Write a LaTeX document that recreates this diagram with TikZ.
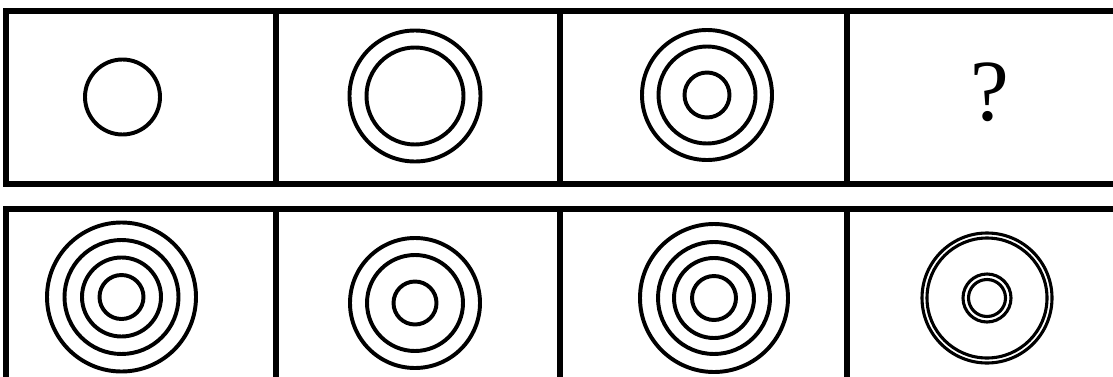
\documentclass[tikz,border=0pt]{standalone}
\usepackage{fontspec}
\setmainfont{Liberation Serif}

\begin{document}
\begin{tikzpicture}[frame/.style={line width=3.6pt},ring/.style={line width=2.8pt},thinring/.style={line width=2.2pt},qlabel/.style={font=\fontsize{62}{62}\selectfont,inner sep=0pt}]
\useasboundingbox (0,0) rectangle (27.825,9.4);
% top row frame
\draw[frame] (28.5,9.125)--(0.15,9.125)--(0.15,4.8)--(28.5,4.8); \draw[frame] (6.9,9.125)--(6.9,4.8); \draw[frame] (14.0,9.125)--(14.0,4.8); \draw[frame] (21.175,9.125)--(21.175,4.8);
% bottom row frame
\draw[frame] (28.5,4.175)--(0.15,4.175)--(0.15,-0.5); \draw[frame] (6.9,4.175)--(6.9,-0.5); \draw[frame] (14.0,4.175)--(14.0,-0.5); \draw[frame] (21.175,4.175)--(21.175,-0.5);
\coordinate (t1) at (3.0625,6.975); \coordinate (t2) at (10.375,7.0); \coordinate (t3) at (17.675,7.025); \coordinate (t4) at (24.75,7.1);
\coordinate (b1) at (3.0375,1.975); \coordinate (b2) at (10.375,1.825); \coordinate (b3) at (17.85,1.95); \coordinate (b4) at (24.675,1.95);
% question row
\draw[ring] (t1) circle (0.9375);
\foreach \r in {1.6375,1.2125} \draw[ring] (t2) circle (\r);
\foreach \r in {1.625,1.2125,0.5625} \draw[ring] (t3) circle (\r);
\node[qlabel] (qmark) at (t4) {?};
% answer row
\foreach \r in {1.8625,1.425,0.9875,0.55} \draw[ring] (b1) circle (\r);
\foreach \r in {1.625,1.2,0.5375} \draw[ring] (b2) circle (\r);
\foreach \r in {1.85,1.4,1.0,0.55} \draw[ring] (b3) circle (\r);
\foreach \r in {1.625,1.5,0.6,0.4625} \draw[thinring] (b4) circle (\r);
\end{tikzpicture}
\end{document}
